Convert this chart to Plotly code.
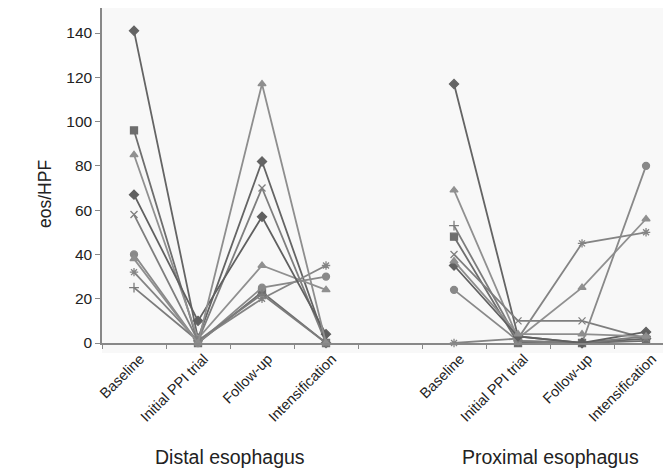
import plotly.graph_objects as go

# Category labels
timepoints = ["Baseline", "Initial PPI trial", "Follow-up", "Intensification"]
distal_pos = [0, 1, 2, 3]
proximal_pos = [5, 6, 7, 8]
group_labels = ["Distal esophagus", "Proximal esophagus"]
y_title = "eos/HPF"

# Per-patient values (eos/HPF)
patients = ["P1", "P2", "P3", "P4", "P5", "P6", "P7", "P8", "P9"]
distal = {
    "P1": [141, 2, 82, 0],
    "P2": [96, 0, 23, 0],
    "P3": [85, 2, 35, 24],
    "P4": [58, 1, 70, 0],
    "P5": [32, 1, 20, 35],
    "P6": [40, 0, 25, 30],
    "P7": [25, 1, 22, 0],
    "P8": [67, 10, 57, 4],
    "P9": [38, 0, 117, 0],
}
proximal = {
    "P1": [117, 3, 0, 2],
    "P2": [48, 0, 0, 1],
    "P3": [69, 2, 25, 56],
    "P4": [40, 10, 10, 2],
    "P5": [0, 2, 45, 50],
    "P6": [24, 1, 0, 80],
    "P7": [53, 1, 0, 3],
    "P8": [35, 3, 0, 5],
    "P9": [37, 4, 4, 3],
}

symbols = {
    "P1": "diamond", "P2": "square", "P3": "triangle-up", "P4": "x-thin-open",
    "P5": "asterisk-open", "P6": "circle", "P7": "cross-thin-open",
    "P8": "diamond", "P9": "triangle-up",
}
colors = {
    "P1": "#646464", "P2": "#6e6e6e", "P3": "#909090", "P4": "#7e7e7e",
    "P5": "#848484", "P6": "#898989", "P7": "#7c7c7c", "P8": "#606060",
    "P9": "#8e8e8e",
}

fig = go.Figure()
for p in patients:
    for pos, vals in ((distal_pos, distal[p]), (proximal_pos, proximal[p])):
        fig.add_trace(go.Scatter(
            x=pos, y=vals, mode="lines+markers",
            line=dict(color=colors[p], width=1.8),
            marker=dict(symbol=symbols[p], size=7, color=colors[p],
                        line=dict(color=colors[p], width=1.3)),
            cliponaxis=False, showlegend=False, hoverinfo="skip",
        ))

# invisible trace on second axis so boundary ticks render
fig.add_trace(go.Scatter(x=[0], y=[0], xaxis="x2", mode="markers",
                         marker=dict(opacity=0), showlegend=False, hoverinfo="skip"))

xr = [-0.5, 8.39]
fig.update_layout(
    width=663, height=468,
    margin=dict(l=94, r=0, t=0, b=133),
    paper_bgcolor="white",
    plot_bgcolor="#f8f8f8",
    font=dict(family="Liberation Sans, Arial, sans-serif", color="#222"),
    xaxis=dict(
        range=xr,
        tickvals=distal_pos + proximal_pos,
        ticktext=timepoints + timepoints,
        tickangle=-45,
        ticks="",
        tickfont=dict(size=14.5, color="#222"),
        ticklabelshift=6,
        showgrid=False, zeroline=False,
        showline=True, linecolor="#888", linewidth=1.5,
    ),
    xaxis2=dict(
        range=xr, overlaying="x", anchor="y", side="bottom",
        tickvals=[i - 0.5 for i in range(10)],
        showticklabels=False, ticks="outside", ticklen=5,
        tickcolor="#888", tickwidth=1.2,
        showgrid=False, zeroline=False, showline=False,
    ),
    yaxis=dict(
        range=[0, 151.3],
        tickvals=[0, 20, 40, 60, 80, 100, 120, 140],
        ticks="outside", ticklen=5, tickcolor="#888", tickwidth=1.2,
        tickfont=dict(size=15.5, color="#222"),
        showgrid=False, zeroline=False,
        showline=True, linecolor="#888", linewidth=1.5,
    ),
    shapes=[dict(type="rect", xref="paper", yref="paper",
                 x0=0, x1=1, y0=-10 / 335, y1=0,
                 fillcolor="#f8f8f8", line=dict(width=0), layer="below")],
)

fig.add_annotation(x=0, xref="paper", xshift=-57, y=1 - 186 / 335, yref="paper",
                   text=y_title, textangle=-90, showarrow=False,
                   xanchor="center", yanchor="middle",
                   font=dict(size=17.5, color="#222"))

for pos, label in ((distal_pos, group_labels[0]), (proximal_pos, group_labels[1])):
    fig.add_annotation(x=(pos[1] + pos[2]) / 2, xref="x", y=-114 / 335, yref="paper",
                       text=label, showarrow=False, yanchor="middle",
                       font=dict(size=19.5, color="#222"))

fig.write_html("out.html")
